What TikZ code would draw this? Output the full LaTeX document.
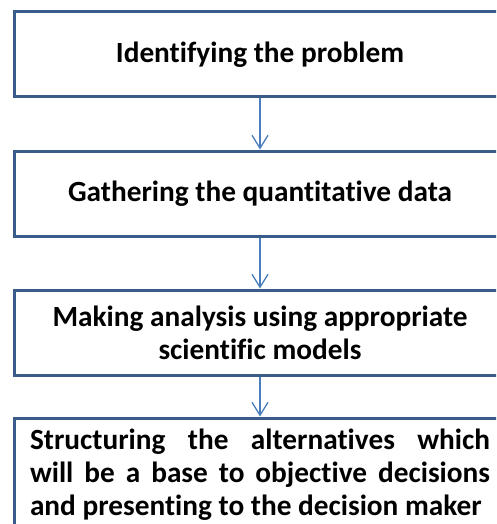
\documentclass[tikz,border=0pt]{standalone}
\usepackage{fontspec}
\setmainfont{Carlito}[Ligatures={NoCommon}]
\usetikzlibrary{arrows.meta,positioning}
\definecolor{boxblue}{RGB}{56,93,138}
\definecolor{arrowblue}{RGB}{74,126,187}

\begin{document}
\begin{tikzpicture}[x=1pt, y=1pt, auto, node distance=51pt, >={Straight Barb[length=13pt,width=16pt]}]
\tikzstyle{stage}=[draw=boxblue, line width=3pt, minimum width=491pt, minimum height=85pt, font=\fontsize{29.3}{33}\selectfont\bfseries, align=center]
\tikzstyle{flow}=[->, draw=arrowblue, line width=1.3pt]
\clip (0,0) rectangle (496,-524);
\node[stage]    (ident) at (260,-54.5)   {Identifying the problem};
\node[stage]    (gather)[below=of ident]  {Gathering the quantitative data};
\node[stage]    (analys)[below=of gather] {Making analysis using appropriate\\scientific models};
\node[stage, text width=460pt, align=justify, inner xsep=7pt, inner ysep=11pt, below=40pt of analys] (struct)
  {\hyphenpenalty=10000 Structuring the alternatives which\linebreak will be a base to objective decisions\linebreak and presenting to the decision maker};
\path
(ident)  edge[flow] (gather)
(gather) edge[flow] (analys)
(analys) edge[flow] (struct);
\end{tikzpicture}
\end{document}
